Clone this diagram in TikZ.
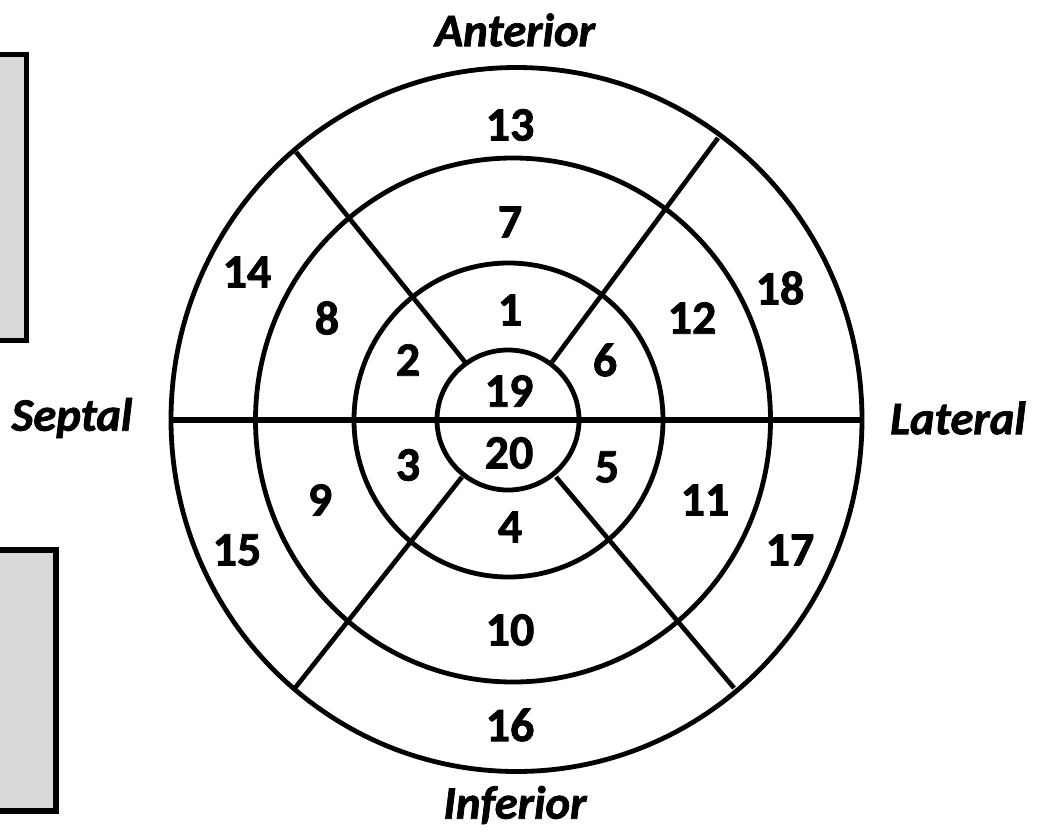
\documentclass[tikz,border=0pt]{standalone}
\usepackage{fontspec}
\setmainfont{Carlito}[BoldFeatures={FakeBold=1.6},BoldItalicFeatures={FakeBold=1.6}]
\begin{document}
\begin{tikzpicture}[x=0.75pt,y=-0.75pt,
  ring/.style={line width=3.6pt},
  spoke/.style={line width=3.5pt},
  num/.style={font=\fontsize{36}{40}\selectfont\bfseries, inner sep=0pt},
  dir/.style={font=\fontsize{35}{40}\selectfont\bfseries\itshape, inner sep=0pt},
  panel/.style={draw=black, fill=gray!30, line width=4pt}]
\useasboundingbox (0,0) rectangle (1046,836);
\clip (0,0) rectangle (1046,836);
% side panels
\draw[panel] (-20,54.5) rectangle (26.5,340.5);
\draw[panel, line width=4.5pt] (-20,550) rectangle (56,811);
% centres
\coordinate (c) at (510,420);
\coordinate (co) at (516.5,419.5);
% rings
\draw[ring] (co) ellipse [x radius=345.5, y radius=352];
\draw[ring] (513,420) ellipse [x radius=257.5, y radius=262];
\draw[ring] (508.5,420) ellipse [x radius=154.5, y radius=157];
\draw[ring] (508,420) ellipse [x radius=71, y radius=70];
% horizontal divider
\coordinate (hl) at (171,420);
\coordinate (hr) at (862,420);
\draw[line width=4pt] (hl) -- (hr);
% spokes
\coordinate (nwo) at (296,152);  \coordinate (nwi) at (465,362);
\coordinate (neo) at (718,138);  \coordinate (nei) at (552,362);
\coordinate (swo) at (295,688);  \coordinate (swi) at (462,477);
\coordinate (seo) at (734,688);  \coordinate (sei) at (556,477);
\draw[spoke] (nwo) -- (nwi);
\draw[spoke] (neo) -- (nei);
\draw[spoke] (swo) -- (swi);
\draw[spoke] (seo) -- (sei);
% numbers
\node[num] (n13) at (510,125) {13};
\node[num] (n7)  at (510,222) {7};
\node[num] (n14) at (247,272) {14};
\node[num] (n8)  at (327,318) {8};
\node[num] (n1)  at (510,310) {1};
\node[num] (n18) at (780,288) {18};
\node[num] (n12) at (692,318) {12};
\node[num] (n2)  at (408,360) {2};
\node[num] (n6)  at (605,360) {6};
\node[num] (n19) at (509,391) {19};
\node[num] (n20) at (509,453) {20};
\node[num] (n3)  at (408,465) {3};
\node[num] (n5)  at (607,467) {5};
\node[num] (n9)  at (320,500) {9};
\node[num] (n11) at (705,500) {11};
\node[num] (n15) at (237,550) {15};
\node[num] (n17) at (790,550) {17};
\node[num] (n4)  at (510,527) {4};
\node[num] (n10) at (510,630) {10};
\node[num] (n16) at (510,725) {16};
% directions
\node[dir] (ant) at (515,30) {Anterior};
\node[dir] (sep) at (72,418) {Septal};
\node[dir] (lat) at (958,418) {Lateral};
\node[dir] (inf) at (515,805) {Inferior};
\end{tikzpicture}
\end{document}
